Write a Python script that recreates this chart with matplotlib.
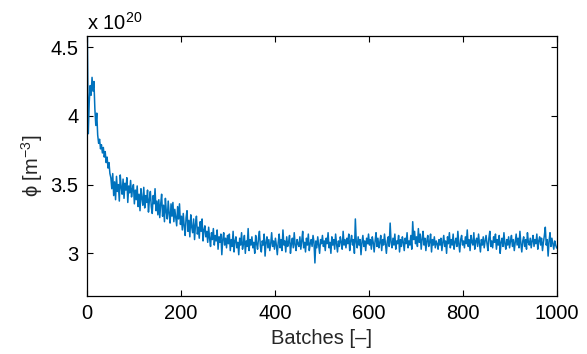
import matplotlib
matplotlib.use("Agg")
import matplotlib.pyplot as plt
import numpy as np

plt.rcParams["font.family"] = ["Liberation Sans", "DejaVu Sans"]
plt.rcParams["mathtext.fontset"] = "custom"
plt.rcParams["mathtext.rm"] = "Liberation Sans"
plt.rcParams["font.size"] = 14.5

# phi values (x 1e20), one every 2 batches
phi = [
    4.58, 3.87, 4.10, 4.22, 4.15, 4.28, 4.18, 4.25, 4.05, 3.93, 4.02, 3.86, 3.80, 3.83, 3.76, 3.79, 3.73, 3.77, 3.70, 3.74, 3.66, 3.70, 3.62, 3.66, 3.58,
    3.55, 3.47, 3.58, 3.42, 3.52, 3.39, 3.56, 3.45, 3.50, 3.38, 3.57, 3.48, 3.43, 3.54, 3.40, 3.51, 3.46, 3.55, 3.37, 3.49, 3.44, 3.53, 3.41, 3.47, 3.50,
    3.36, 3.46, 3.39, 3.49, 3.34, 3.43, 3.31, 3.47, 3.40, 3.35, 3.48, 3.33, 3.42, 3.37, 3.46, 3.30, 3.39, 3.45, 3.34, 3.29, 3.42, 3.36, 3.47, 3.31, 3.38,
    3.28, 3.39, 3.26, 3.36, 3.43, 3.27, 3.35, 3.23, 3.40, 3.30, 3.25, 3.38, 3.29, 3.22, 3.36, 3.27, 3.37, 3.23, 3.32, 3.26, 3.20, 3.34, 3.25, 3.36, 3.21,
    3.27, 3.17, 3.29, 3.20, 3.13, 3.26, 3.31, 3.16, 3.24, 3.12, 3.28, 3.19, 3.15, 3.25, 3.10, 3.21, 3.27, 3.14, 3.19, 3.11, 3.23, 3.16, 3.25, 3.09, 3.17,
    3.20, 3.12, 3.16, 3.08, 3.19, 3.11, 3.05, 3.15, 3.10, 3.18, 3.06, 3.13, 3.09, 3.17, 3.03, 3.12, 3.08, 3.14, 2.99, 3.10, 3.15, 3.06, 3.11, 3.04, 3.13,
    3.07, 3.14, 3.02, 3.10, 3.05, 3.16, 3.01, 3.09, 3.12, 3.04, 3.08, 2.99, 3.11, 3.06, 3.15, 3.03, 3.07, 3.13, 3.00, 3.09, 3.05, 3.18, 3.02, 3.10, 3.06,
    3.12, 3.04, 3.08, 3.00, 3.13, 3.07, 3.03, 3.11, 3.16, 3.05, 3.01, 3.09, 3.06, 3.14, 2.98, 3.08, 3.12, 3.04, 3.10, 3.02, 3.07, 3.15, 3.05, 3.09, 3.03,
    3.11, 3.06, 2.99, 3.08, 3.14, 3.04, 3.10, 3.02, 3.17, 3.06, 3.09, 3.01, 3.12, 3.05, 3.08, 3.13, 3.00, 3.07, 3.11, 3.04, 3.15, 3.06, 3.02, 3.10, 3.07,
    3.05, 3.12, 3.03, 3.09, 3.16, 3.04, 3.08, 3.01, 3.11, 3.06, 3.14, 3.02, 3.07, 3.10, 3.05, 3.13, 3.08, 2.93, 3.09, 3.04, 3.12, 3.06, 3.00, 3.10, 3.07,
    3.13, 3.05, 3.09, 3.02, 3.11, 3.07, 3.15, 3.04, 3.08, 3.00, 3.12, 3.06, 3.10, 3.03, 3.14, 3.07, 3.01, 3.09, 3.05, 3.12, 3.08, 3.03, 3.16, 3.06, 3.10,
    3.04, 3.11, 3.07, 3.14, 3.02, 3.09, 3.13, 3.06, 3.10, 3.00, 3.25, 3.08, 3.04, 3.12, 3.06, 3.10, 2.99, 3.08, 3.13, 3.05, 3.09, 3.02, 3.11, 3.07, 3.14,
    3.06, 3.10, 3.03, 3.12, 3.08, 3.01, 3.09, 3.15, 3.05, 3.11, 3.04, 3.08, 3.13, 3.02, 3.10, 3.06, 3.14, 3.07, 3.00, 3.09, 3.12, 3.05, 3.22, 3.08, 3.04,
    3.11, 3.06, 3.14, 3.03, 3.09, 3.07, 3.13, 3.01, 3.10, 3.05, 3.12, 3.08, 3.02, 3.11, 3.07, 3.15, 3.04, 3.09, 3.06, 3.13, 3.03, 3.23, 3.10, 3.16, 3.07,
    3.12, 3.05, 3.18, 3.08, 3.14, 3.03, 3.10, 3.16, 3.06, 3.11, 3.02, 3.09, 3.13, 3.05, 3.08, 3.14, 3.01, 3.10, 3.06, 3.12, 3.04, 3.09, 3.07, 3.03, 3.10,
    3.06, 3.11, 3.02, 3.08, 3.13, 3.05, 3.09, 3.00, 3.12, 3.07, 3.15, 3.04, 3.10, 3.06, 3.14, 3.03, 3.08, 3.11, 3.05, 3.16, 3.07, 3.01, 3.10, 3.13, 3.06,
    3.09, 3.04, 3.12, 3.07, 3.17, 3.05, 3.10, 3.02, 3.13, 3.08, 3.06, 3.15, 3.03, 3.09, 3.11, 3.05, 3.14, 3.07, 3.01, 3.10, 3.06, 3.12, 3.04, 3.09, 3.13,
    3.07, 3.02, 3.11, 3.16, 3.05, 3.09, 3.04, 3.12, 3.08, 3.14, 3.03, 3.10, 3.06, 3.13, 3.00, 3.08, 3.11, 3.05, 3.15, 3.07, 3.03, 3.10, 3.06, 3.12, 3.04,
    3.09, 3.13, 3.05, 3.10, 3.02, 3.08, 3.14, 3.06, 3.11, 3.04, 3.16, 3.07, 3.01, 3.09, 3.12, 3.05, 3.10, 3.03, 3.15, 3.08, 3.06, 3.11, 3.04, 3.09, 3.13,
    3.05, 3.10, 3.07, 3.14, 3.03, 3.09, 3.12, 3.06, 3.11, 3.02, 3.08, 3.13, 3.19, 3.06, 3.10, 2.98, 3.09, 3.15, 3.05, 3.11, 3.07, 3.03, 3.09, 3.06, 3.04,
]
batches = np.arange(1, 2 * len(phi) + 1, 2)

xticks = [0, 200, 400, 600, 800, 1000]
yticks = [3, 3.5, 4, 4.5]
yticklabels = ["3", "3.5", "4", "4.5"]

fig = plt.figure(figsize=(5.87, 3.54), dpi=100)
ax = fig.add_axes([0.148, 0.164, 0.801, 0.734])
ax.plot(batches, phi, color="#0072BD", lw=1.1)

ax.set_xlim(0, 1000)
ax.set_ylim(2.69, 4.58)
ax.set_xticks(xticks)
ax.set_yticks(yticks)
ax.set_yticklabels(yticklabels)
ax.tick_params(direction="in", top=True, right=True, length=4, width=0.8, pad=6)
for s in ax.spines.values():
    s.set_linewidth(0.9)

ax.set_xlabel("Batches [\u2013]", color="#262626")
ax.set_ylabel("\u03d5 [m$^{-3}$]", color="#262626")
ax.text(0.0, 1.01, r"x 10$^{20}$", transform=ax.transAxes, ha="left", va="bottom")

fig.savefig("out.png", dpi=100)
